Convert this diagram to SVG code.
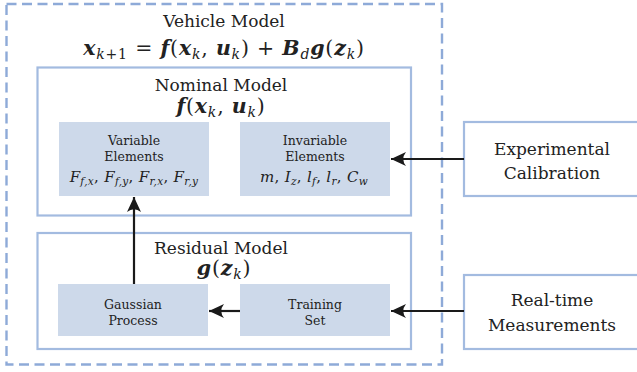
<svg xmlns="http://www.w3.org/2000/svg" width="637" height="372" viewBox="0 0 637 372">
  <style>
    text { font-family: 'DejaVu Serif', serif; fill: #222; }
    .big { font-size: 17px; }
    .sm { font-size: 12.5px; }
    .eq { font-size: 20.5px; letter-spacing: 0.8px; }
    .sub { font-size: 14px; }
    .fm { font-size: 15px; letter-spacing: 0.3px; }
    .fsub { font-size: 10.5px; }
    .i { font-style: italic; }
    .bi { font-style: italic; font-weight: bold; }
    .frame { fill: #fff; stroke: #a3bbe0; stroke-width: 2.2; }
    .inner { fill: #cdd9ea; stroke: none; }
    .dash { fill: none; stroke: #8eaad8; stroke-width: 2.4; stroke-dasharray: 10 5.5; }
    .conn { stroke: #1a1a1a; stroke-width: 2.2; fill: none; marker-end: url(#head); }
  </style>
  <defs>
    <marker id="head" markerUnits="userSpaceOnUse" markerWidth="18" markerHeight="18" viewBox="-15 -9 18 18" refX="0" refY="0" orient="auto">
      <path d="M0,0 L-15,-7 Q-9.5,0 -15,7 Z" fill="#1a1a1a"/>
    </marker>
  </defs>

  <rect width="637" height="372" fill="#fff"/>

  <!-- vehicle model container -->
  <g id="vehicle-model">
    <rect class="dash" x="6.5" y="4" width="435.5" height="360.5"/>
    <text class="big" x="224" y="27" text-anchor="middle">Vehicle Model</text>
    <!-- x_{k+1} = f(x_k, u_k) + B_d g(z_k) -->
    <text class="eq" x="224" y="55" text-anchor="middle"><tspan class="bi">x</tspan><tspan class="sub i" dy="4">k</tspan><tspan class="sub">+1</tspan><tspan dy="-4"> = </tspan><tspan class="bi">f</tspan><tspan>(</tspan><tspan class="bi">x</tspan><tspan class="sub i" dy="4">k</tspan><tspan dy="-4">, </tspan><tspan class="bi">u</tspan><tspan class="sub i" dy="4">k</tspan><tspan dy="-4">) + </tspan><tspan class="bi">B</tspan><tspan class="sub i" dy="4">d</tspan><tspan class="bi" dy="-4">g</tspan><tspan>(</tspan><tspan class="bi">z</tspan><tspan class="sub i" dy="4">k</tspan><tspan dy="-4">)</tspan></text>
  </g>

  <!-- nominal model -->
  <g id="nominal-model">
    <rect class="frame" x="37.5" y="67.5" width="373.5" height="148"/>
    <text class="big" x="221" y="91" text-anchor="middle">Nominal Model</text>
    <text class="eq" x="221" y="113" text-anchor="middle"><tspan class="bi">f</tspan><tspan>(</tspan><tspan class="bi">x</tspan><tspan class="sub i" dy="4">k</tspan><tspan dy="-4">, </tspan><tspan class="bi">u</tspan><tspan class="sub i" dy="4">k</tspan><tspan dy="-4">)</tspan></text>
  </g>

  <g id="variable-elements">
    <rect class="inner" x="59" y="122" width="150" height="74"/>
    <text class="sm" x="134" y="145" text-anchor="middle">Variable</text>
    <text class="sm" x="134" y="161" text-anchor="middle">Elements</text>
    <text class="fm" x="134" y="182" text-anchor="middle"><tspan class="i">F</tspan><tspan class="fsub i" dy="3">f,x</tspan><tspan dy="-3">, </tspan><tspan class="i">F</tspan><tspan class="fsub i" dy="3">f,y</tspan><tspan dy="-3">, </tspan><tspan class="i">F</tspan><tspan class="fsub i" dy="3">r,x</tspan><tspan dy="-3">, </tspan><tspan class="i">F</tspan><tspan class="fsub i" dy="3">r,y</tspan></text>
  </g>

  <g id="invariable-elements">
    <rect class="inner" x="240" y="122" width="150" height="74"/>
    <text class="sm" x="315" y="145" text-anchor="middle">Invariable</text>
    <text class="sm" x="315" y="161" text-anchor="middle">Elements</text>
    <text class="fm" x="314" y="182" text-anchor="middle"><tspan class="i">m</tspan><tspan>, </tspan><tspan class="i">I</tspan><tspan class="fsub i" dy="3">z</tspan><tspan dy="-3">, </tspan><tspan class="i">l</tspan><tspan class="fsub i" dy="3">f</tspan><tspan dy="-3">, </tspan><tspan class="i">l</tspan><tspan class="fsub i" dy="3">r</tspan><tspan dy="-3">, </tspan><tspan class="i">C</tspan><tspan class="fsub i" dy="3">w</tspan></text>
  </g>

  <!-- residual model -->
  <g id="residual-model">
    <rect class="frame" x="37.5" y="233" width="373.5" height="116"/>
    <text class="big" x="221" y="253.5" text-anchor="middle">Residual Model</text>
    <text class="eq" x="224" y="275" text-anchor="middle"><tspan class="bi">g</tspan><tspan>(</tspan><tspan class="bi">z</tspan><tspan class="sub i" dy="4">k</tspan><tspan dy="-4">)</tspan></text>
  </g>

  <g id="gaussian-process">
    <rect class="inner" x="58" y="284" width="150" height="52"/>
    <text class="sm" x="133" y="308.5" text-anchor="middle">Gaussian</text>
    <text class="sm" x="133" y="324.5" text-anchor="middle">Process</text>
  </g>

  <g id="training-set">
    <rect class="inner" x="240" y="284" width="150" height="52"/>
    <text class="sm" x="315" y="308.5" text-anchor="middle">Training</text>
    <text class="sm" x="315" y="324.5" text-anchor="middle">Set</text>
  </g>

  <!-- external sources -->
  <g id="experimental-calibration">
    <rect class="frame" x="464" y="122" width="180" height="74"/>
    <text class="big" x="552" y="154.5" text-anchor="middle">Experimental</text>
    <text class="big" x="552" y="178.5" text-anchor="middle">Calibration</text>
  </g>

  <g id="real-time-measurements">
    <rect class="frame" x="464" y="275" width="180" height="74"/>
    <text class="big" x="552" y="306" text-anchor="middle">Real-time</text>
    <text class="big" x="552" y="331" text-anchor="middle">Measurements</text>
  </g>

  <!-- connectors -->
  <g id="connectors">
    <line class="conn" x1="464" y1="159" x2="391" y2="159"/>
    <line class="conn" x1="464" y1="311" x2="391" y2="311"/>
    <line class="conn" x1="240" y1="311" x2="209" y2="311"/>
    <line class="conn" x1="134" y1="284" x2="134" y2="197"/>
  </g>
</svg>
